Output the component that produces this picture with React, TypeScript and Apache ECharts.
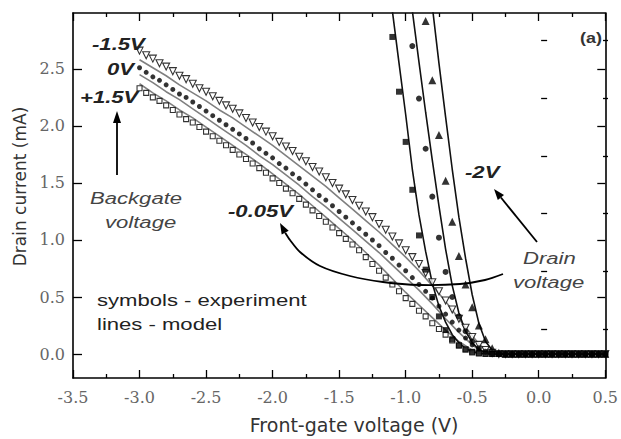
import React, { useEffect, useRef } from "react";
import * as echarts from "echarts";

// Front-gate sweep used by the three backgate curves (V)
const SWEEP = [
  -3.0, -2.95, -2.9, -2.85, -2.8, -2.75, -2.7, -2.65, -2.6, -2.55,
  -2.5, -2.45, -2.4, -2.35, -2.3, -2.25, -2.2, -2.15, -2.1, -2.05,
  -2.0, -1.95, -1.9, -1.85, -1.8, -1.75, -1.7, -1.65, -1.6, -1.55,
  -1.5, -1.45, -1.4, -1.35, -1.3, -1.25, -1.2, -1.15, -1.1, -1.05,
  -1.0, -0.95, -0.9, -0.85, -0.8, -0.75, -0.7, -0.65, -0.6, -0.55,
  -0.5, -0.45, -0.4, -0.35, -0.3, -0.25, -0.2, -0.15, -0.1, -0.05,
  0.0, 0.05, 0.1, 0.15, 0.2, 0.25, 0.3, 0.35, 0.4, 0.45, 0.5,
];

// Measured drain current (mA), backgate -1.5 V
const I_BG_M15 = [
  2.66, 2.62, 2.59, 2.55, 2.52, 2.48, 2.44, 2.41, 2.37, 2.33,
  2.3, 2.26, 2.22, 2.18, 2.15, 2.11, 2.07, 2.03, 1.99, 1.95,
  1.91, 1.86, 1.82, 1.78, 1.73, 1.69, 1.64, 1.6, 1.55, 1.5,
  1.45, 1.4, 1.35, 1.3, 1.25, 1.2, 1.14, 1.09, 1.03, 0.97,
  0.91, 0.85, 0.79, 0.71, 0.63, 0.55, 0.47, 0.39, 0.31, 0.23,
  0.15, 0.08, 0.035, 0.01, 0, 0, 0, 0, 0, 0,
  0, 0, 0, 0, 0, 0, 0, 0, 0, 0, 0,
];

// Measured drain current (mA), backgate 0 V
const I_BG_0 = [
  2.51, 2.47, 2.43, 2.4, 2.36, 2.32, 2.28, 2.25, 2.21, 2.17,
  2.13, 2.09, 2.05, 2.01, 1.97, 1.93, 1.89, 1.85, 1.8, 1.76,
  1.72, 1.67, 1.63, 1.58, 1.54, 1.49, 1.44, 1.39, 1.35, 1.3,
  1.25, 1.2, 1.15, 1.1, 1.05, 1.0, 0.95, 0.89, 0.84, 0.78,
  0.73, 0.67, 0.61, 0.55, 0.49, 0.42, 0.35, 0.28, 0.21, 0.14,
  0.08, 0.035, 0.012, 0.004, 0, 0, 0, 0, 0, 0,
  0, 0, 0, 0, 0, 0, 0, 0, 0, 0, 0,
];

// Measured drain current (mA), backgate +1.5 V
const I_BG_P15 = [
  2.33, 2.29, 2.25, 2.22, 2.18, 2.14, 2.1, 2.06, 2.03, 1.99,
  1.95, 1.91, 1.87, 1.83, 1.79, 1.75, 1.71, 1.67, 1.63, 1.59,
  1.54, 1.5, 1.45, 1.41, 1.36, 1.31, 1.26, 1.21, 1.16, 1.11,
  1.06, 1.01, 0.96, 0.91, 0.85, 0.79, 0.73, 0.67, 0.61, 0.55,
  0.49, 0.44, 0.38, 0.33, 0.27, 0.22, 0.17, 0.12, 0.075, 0.04,
  0.015, 0.005, 0, 0, 0, 0, 0, 0, 0, 0,
  0, 0, 0, 0, 0, 0, 0, 0, 0, 0, 0,
];

// Model curves for the backgate family
const MODEL_X = [
  -3.0, -2.9, -2.8, -2.7, -2.6, -2.5, -2.4, -2.3, -2.2, -2.1,
  -2.0, -1.9, -1.8, -1.7, -1.6, -1.5, -1.4, -1.3, -1.2, -1.1,
  -1.0, -0.9, -0.8, -0.7, -0.6, -0.5, -0.45, -0.4, -0.35, -0.3,
  -0.2, 0.5,
];
const MODEL_BG_M15 = [
  2.58, 2.51, 2.44, 2.36, 2.29, 2.22, 2.14, 2.07, 1.99, 1.91,
  1.83, 1.74, 1.65, 1.56, 1.47, 1.37, 1.27, 1.17, 1.07, 0.96,
  0.85, 0.73, 0.6, 0.46, 0.31, 0.16, 0.09, 0.04, 0.015, 0.005,
  0, 0,
];
const MODEL_BG_0 = [
  2.45, 2.38, 2.3, 2.23, 2.15, 2.07, 1.99, 1.91, 1.83, 1.74,
  1.66, 1.57, 1.48, 1.38, 1.29, 1.19, 1.09, 0.99, 0.89, 0.78,
  0.67, 0.56, 0.44, 0.31, 0.19, 0.08, 0.04, 0.015, 0.005, 0,
  0, 0,
];
const MODEL_BG_P15 = [
  2.37, 2.29, 2.22, 2.14, 2.07, 1.99, 1.91, 1.83, 1.75, 1.67,
  1.58, 1.49, 1.4, 1.3, 1.2, 1.1, 1.0, 0.89, 0.78, 0.66,
  0.54, 0.43, 0.32, 0.21, 0.11, 0.035, 0.012, 0.003, 0, 0,
  0, 0,
];

// Drain-voltage family: measured points
const SQ_X = [
  -1.1, -1.05, -1.0, -0.95, -0.9, -0.85, -0.8, -0.75, -0.7, -0.65,
  -0.6, -0.55, -0.5, -0.45, -0.4, -0.35, -0.3, -0.25, -0.2, -0.15,
  -0.1, -0.05, 0.0, 0.05, 0.1, 0.15, 0.2, 0.25, 0.3, 0.35,
  0.4, 0.45, 0.5,
];
const I_SQ = [
  2.78, 2.3, 1.86, 1.44, 1.04, 0.74, 0.5, 0.33, 0.21, 0.13,
  0.075, 0.04, 0.02, 0.008, 0.003, 0, 0, 0, 0, 0,
  0, 0, 0, 0, 0, 0, 0, 0, 0, 0,
  0, 0, 0,
];
const CI_X = [
  -0.95, -0.9, -0.85, -0.8, -0.75, -0.7, -0.65, -0.6, -0.55, -0.5,
  -0.45, -0.4, -0.35, -0.3, -0.25, -0.2, -0.15, -0.1, -0.05, 0.0,
  0.05, 0.1, 0.15, 0.2, 0.25, 0.3, 0.35, 0.4, 0.45, 0.5,
];
const I_CI = [
  2.7, 2.24, 1.8, 1.38, 1.02, 0.72, 0.5, 0.33, 0.2, 0.11,
  0.05, 0.02, 0.006, 0, 0, 0, 0, 0, 0, 0,
  0, 0, 0, 0, 0, 0, 0, 0, 0, 0,
];
const TR_X = [
  -0.85, -0.8, -0.75, -0.7, -0.65, -0.6, -0.55, -0.5, -0.45, -0.4,
  -0.35, -0.3, -0.25, -0.2, -0.15, -0.1, -0.05, 0.0, 0.05, 0.1,
  0.15, 0.2, 0.25, 0.3, 0.35, 0.4, 0.45, 0.5,
];
const I_TR = [
  2.92, 2.4, 1.92, 1.52, 1.16, 0.86, 0.61, 0.41, 0.25, 0.13,
  0.05, 0.012, 0, 0, 0, 0, 0, 0, 0, 0,
  0, 0, 0, 0, 0, 0, 0, 0,
];

// Drain-voltage family: model curves
const L1_X = [-1.11, -1.05, -1.0, -0.95, -0.9, -0.85, -0.8, -0.75, -0.7, -0.65, -0.6, -0.55, -0.5, -0.45, -0.4, 0.5];
const L1_Y = [3.1, 2.55, 2.1, 1.62, 1.22, 0.9, 0.62, 0.42, 0.28, 0.17, 0.1, 0.05, 0.02, 0.006, 0, 0];
const L2_X = [-0.96, -0.9, -0.85, -0.8, -0.75, -0.7, -0.65, -0.6, -0.55, -0.5, -0.45, -0.4, -0.35, 0.5];
const L2_Y = [3.1, 2.56, 2.12, 1.7, 1.3, 0.92, 0.6, 0.36, 0.2, 0.1, 0.04, 0.012, 0, 0];
const L3_X = [-0.81, -0.75, -0.7, -0.65, -0.6, -0.55, -0.5, -0.45, -0.4, -0.35, -0.3, -0.25, 0.5];
const L3_Y = [3.15, 2.55, 2.08, 1.62, 1.2, 0.84, 0.52, 0.27, 0.11, 0.035, 0.008, 0, 0];

// Axis ticks
const Y_MAJOR = [0, 0.5, 1.0, 1.5, 2.0, 2.5];
const Y_MINOR = [0.25, 0.75, 1.25, 1.75, 2.25, 2.75];

const pair = (xs: number[], ys: number[]) => xs.map((x, i) => [x, ys[i]]);

const SANS = '"Liberation Sans", Arial, sans-serif';

function label(text: string, x: number, y: number, opts: any = {}) {
  return {
    type: "text",
    x,
    y,
    scaleX: opts.scaleX ?? 1.3,
    z: 100,
    style: {
      text,
      fontFamily: SANS,
      fontSize: opts.fontSize ?? 17,
      fontStyle: opts.italic ? "italic" : "normal",
      fontWeight: opts.bold ? "bold" : "normal",
      fill: opts.fill ?? "#222",
      align: opts.align ?? "left",
      verticalAlign: "middle",
    },
  };
}

export default function App() {
  const ref = useRef<HTMLDivElement>(null);

  useEffect(() => {
    document.body.style.margin = "0";
    const chart = echarts.init(ref.current!, null, { renderer: "svg" });

    const axisLine = { show: true, onZero: false, lineStyle: { color: "#000", width: 1.6 } };
    const tickLine = { color: "#000", width: 1.3 };
    const tickLabel = {
      fontFamily: '"DejaVu Serif", serif',
      fontSize: 16,
      color: "#666",
    };
    const fmt = (v: number) => v.toFixed(1);
    const yRange = { min: -0.21, max: 2.99 };
    const xRange = { min: -3.5, max: 0.5 };

    const scatter = (name: string, xs: number[], ys: number[], symbol: string, size: number, filled: boolean, rotate = 0) => ({
      type: "scatter",
      name,
      data: pair(xs, ys),
      symbol,
      symbolSize: size,
      symbolRotate: rotate,
      z: 5,
      itemStyle: filled
        ? { color: "#000" }
        : { color: "#fff", borderColor: "#000", borderWidth: 1.1 },
    });
    const model = (name: string, xs: number[], ys: number[], color: string) => ({
      type: "line",
      name,
      data: pair(xs, ys),
      showSymbol: false,
      symbol: "none",
      z: 3,
      lineStyle: { color, width: 1.6 },
    });

    const arrowStyle = { stroke: "#000", lineWidth: 1.8, fill: "none" };

    chart.setOption({
      animation: false,
      backgroundColor: "#fff",
      grid: [
        { left: 73, right: 13, top: 13, bottom: 57 },
        { left: 73, right: 13, top: 13, bottom: 57 },
      ],
      xAxis: [
        {
          gridIndex: 0,
          type: "value",
          ...xRange,
          interval: 0.5,
          position: "bottom",
          axisLine,
          axisTick: { show: true, inside: true, length: 8, lineStyle: tickLine },
          minorTick: { show: true, splitNumber: 2, length: 4, lineStyle: tickLine },
          axisLabel: { ...tickLabel, margin: 11, formatter: fmt },
          splitLine: { show: false },
          name: "Front-gate voltage (V)",
          nameLocation: "middle",
          nameGap: 37,
          nameTextStyle: {
            fontFamily: '"DejaVu Sans", sans-serif',
            fontSize: 19,
            color: "#333",
            padding: [0, 0, 0, 30],
          },
        },
        {
          gridIndex: 0,
          type: "value",
          ...xRange,
          interval: 0.5,
          position: "top",
          axisLine,
          axisTick: { show: true, inside: true, length: 8, lineStyle: tickLine },
          minorTick: { show: true, splitNumber: 2, length: 4, lineStyle: tickLine },
          axisLabel: { show: false },
          splitLine: { show: false },
        },
        { gridIndex: 1, type: "value", ...xRange, show: false },
      ],
      yAxis: [
        {
          gridIndex: 0,
          type: "value",
          ...yRange,
          position: "left",
          axisLine,
          axisTick: { show: true, inside: true, length: 9, lineStyle: tickLine, customValues: Y_MAJOR },
          axisLabel: { ...tickLabel, margin: 8, formatter: fmt, customValues: Y_MAJOR },
          splitLine: { show: false },
          name: "Drain current (mA)",
          nameLocation: "middle",
          nameGap: 33,
          nameTextStyle: {
            fontFamily: '"DejaVu Sans", sans-serif',
            fontSize: 17,
            color: "#333",
            padding: [0, 0, 0, 18],
          },
        },
        {
          gridIndex: 0,
          type: "value",
          ...yRange,
          position: "right",
          axisLine,
          axisTick: { show: true, inside: true, length: 8, lineStyle: tickLine, customValues: Y_MAJOR },
          axisLabel: { show: false },
          splitLine: { show: false },
        },
        {
          gridIndex: 1,
          type: "value",
          ...yRange,
          position: "left",
          axisLine: { show: false },
          axisTick: { show: true, inside: true, length: 6, lineStyle: tickLine, customValues: Y_MINOR },
          axisLabel: { show: false },
          splitLine: { show: false },
        },
        {
          gridIndex: 1,
          type: "value",
          ...yRange,
          position: "right",
          axisLine: { show: false },
          axisTick: { show: true, inside: true, length: 5, lineStyle: tickLine, customValues: Y_MINOR },
          axisLabel: { show: false },
          splitLine: { show: false },
        },
      ],
      series: [
        model("model -1.5V", MODEL_X, MODEL_BG_M15, "#808080"),
        model("model 0V", MODEL_X, MODEL_BG_0, "#808080"),
        model("model +1.5V", MODEL_X, MODEL_BG_P15, "#808080"),
        model("model drain 1", L1_X, L1_Y, "#111"),
        model("model drain 2", L2_X, L2_Y, "#111"),
        model("model drain 3", L3_X, L3_Y, "#111"),
        scatter("-1.5V", SWEEP, I_BG_M15, "triangle", 7, false, 180),
        scatter("0V", SWEEP, I_BG_0, "circle", 5, true),
        scatter("+1.5V", SWEEP, I_BG_P15, "rect", 5, false),
        scatter("drain squares", SQ_X, I_SQ, "rect", 6, true),
        scatter("drain circles", CI_X, I_CI, "circle", 6, true),
        scatter("drain triangles", TR_X, I_TR, "triangle", 8, true),
      ],
      graphic: [
        label("-1.5V", 92, 44, { bold: true, italic: true }),
        label("0V", 107, 69, { bold: true, italic: true }),
        label("+1.5V", 80, 97, { bold: true, italic: true }),
        label("Backgate", 90, 198, { italic: true, fill: "#444" }),
        label("voltage", 105, 222, { italic: true, fill: "#444" }),
        label("-0.05V", 228, 211, { bold: true, italic: true }),
        label("-2V", 465, 172, { bold: true, italic: true }),
        label("Drain", 523, 258, { italic: true, fill: "#444" }),
        label("voltage", 513, 282, { italic: true, fill: "#444" }),
        label("symbols - experiment", 97, 301, { fontSize: 16, scaleX: 1.38 }),
        label("lines - model", 97, 325, { fontSize: 16, scaleX: 1.38 }),
        label("(a)", 602, 38, { bold: true, fontSize: 15, scaleX: 1.2, align: "right", fill: "#333" }),
        // backgate arrow
        { type: "line", z: 100, shape: { x1: 117, y1: 175, x2: 117, y2: 121 }, style: arrowStyle },
        { type: "polygon", z: 100, shape: { points: [[117, 111], [113, 123], [121, 123]] }, style: { fill: "#000" } },
        // drain voltage arrow to -2V
        { type: "line", z: 100, shape: { x1: 537, y1: 242, x2: 500.9, y2: 197.5 }, style: arrowStyle },
        { type: "polygon", z: 100, shape: { points: [[494, 189], [504, 195], [497.8, 200]] }, style: { fill: "#000" } },
        // drain voltage arrow to -0.05V
        {
          type: "polyline",
          z: 100,
          shape: {
            points: [[503, 274], [485, 280], [460, 284], [420, 285], [383, 282], [350, 276], [320, 266], [300, 252], [290, 240], [285.2, 232.7]],
            smooth: 0.3,
          },
          style: arrowStyle,
        },
        { type: "polygon", z: 100, shape: { points: [[280, 223], [288.7, 230.8], [281.7, 234.6]] }, style: { fill: "#000" } },
      ],
    });

    return () => chart.dispose();
  }, []);

  return <div ref={ref} style={{ width: 621, height: 439 }} />;
}
